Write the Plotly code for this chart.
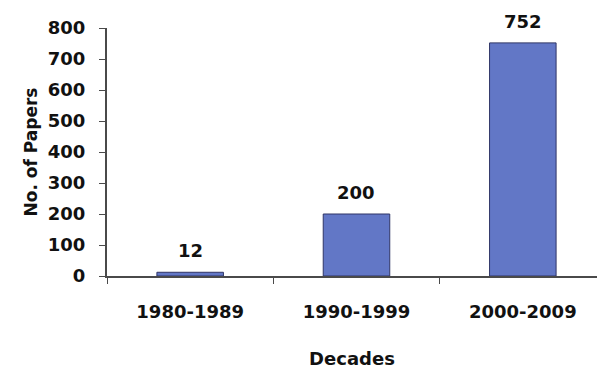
import plotly.graph_objects as go

decades = ["1980-1989", "1990-1999", "2000-2009"]
papers = [12, 200, 752]
y_ticks = [0, 100, 200, 300, 400, 500, 600, 700, 800]

FONT = "DejaVu Sans"
AX = "#4a4a4a"

fig = go.Figure()
fig.add_trace(go.Bar(
    x=decades, y=papers, width=0.4,
    marker=dict(color="#6277c6", line=dict(color="#2f3566", width=1)),
    hoverinfo="skip",
))
for d, v in zip(decades, papers):
    fig.add_annotation(x=d, y=v, text=str(v), showarrow=False,
                       yanchor="bottom", yshift=9,
                       font=dict(family=FONT, size=18, color="#111", weight="bold"))

fig.update_layout(
    width=597, height=373,
    margin=dict(l=107, r=0, t=28, b=97),
    paper_bgcolor="white", plot_bgcolor="white",
    showlegend=False,
    font=dict(family=FONT, color="#111"),
)
fig.update_xaxes(
    range=[-0.5, 2.446],
    showline=True, linecolor=AX, linewidth=2,
    ticks="outside", tickson="boundaries", ticklen=6, tickcolor=AX,
    tickfont=dict(family=FONT, size=18, weight="bold", color="#111"),
    ticklabelstandoff=18,
    title=dict(text="Decades", font=dict(family=FONT, size=18, weight="bold", color="#111"), standoff=32),
    showgrid=False,
)
fig.update_yaxes(
    range=[0, 800], tickvals=y_ticks,
    showline=True, linecolor=AX, linewidth=2,
    ticks="outside", ticklen=6, tickcolor=AX,
    tickfont=dict(family=FONT, size=18, weight="bold", color="#111"),
    ticklabelstandoff=10,
    title=dict(text="No. of Papers", font=dict(family=FONT, size=17, weight="bold", color="#111"), standoff=6),
    showgrid=False, zeroline=False,
)
fig.write_html("out.html")
